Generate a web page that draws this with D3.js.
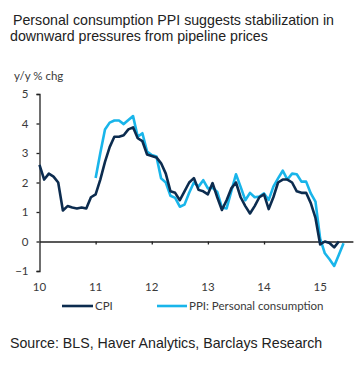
<!DOCTYPE html>
<html><head><meta charset="utf-8">
<script src="https://cdn.jsdelivr.net/npm/d3@7"></script>
<style>html,body{margin:0;padding:0;background:#fff;}svg{display:block;}</style>
</head><body>
<svg id="c" width="361" height="371"></svg>
<script>
// Monthly y/y % change; CPI starts Jan 2010, PPI starts Jan 2011
const cpiStart = "2010-01";
const cpi = [2.6,2.1,2.3,2.2,2.0,1.05,1.2,1.15,1.12,1.15,1.12,1.5,
  1.6,2.1,2.7,3.2,3.55,3.55,3.6,3.8,3.87,3.5,3.4,2.95,
  2.9,2.85,2.65,2.3,1.7,1.65,1.4,1.7,2.0,2.15,1.75,1.7,
  1.6,1.98,1.5,1.07,1.4,1.8,2.0,1.5,1.2,0.95,1.2,1.5,
  1.6,1.1,1.5,2.0,2.1,2.1,2.0,1.7,1.65,1.65,1.3,0.8,
  -0.1,0.0,-0.05,-0.2,0.0];
const ppiStart = "2011-01";
const ppi = [2.15,3.0,3.8,4.03,4.1,4.1,3.98,4.12,4.25,3.55,3.67,3.05,
  2.93,2.88,2.14,2.0,1.55,1.48,1.18,1.25,1.65,2.0,1.86,2.08,
  1.8,1.82,1.68,1.15,1.12,1.7,2.28,1.85,1.4,1.65,1.5,1.52,
  1.63,1.41,1.86,2.14,2.4,2.1,2.3,2.28,2.03,2.03,1.63,1.35,
  0.1,-0.4,-0.6,-0.83,-0.45,-0.06];
const yearLabels = ["10","11","12","13","14","15"];
const yTicks = [-1,0,1,2,3,4,5];
const seriesNames = ["CPI","PPI: Personal consumption"];
const colors = ["#0c2c4f","#19b5ea"];

const svg = d3.select("#c");
const x = d3.scaleLinear().domain([0,67]).range([39.5,352.9]);
const y = d3.scaleLinear().domain([-1,5]).range([271,94]);
const mi = s => { const [yy,mm] = s.split("-").map(Number); return (yy-2010)*12 + (mm-1); };

const axisFont = "Lato, 'Open Sans', sans-serif";
const txt = "#3a3a3a";

// Title
const title = svg.append("text").attr("font-family","Arial, 'Liberation Sans', sans-serif")
  .attr("font-size",14.2).attr("fill","#222");
title.append("tspan").attr("x",13).attr("y",25).text("Personal consumption PPI suggests stabilization in");
title.append("tspan").attr("x",10).attr("y",41).text("downward pressures from pipeline prices");

// y unit label
svg.append("text").attr("x",14).attr("y",80).attr("font-family",axisFont).attr("font-size",11.5)
  .attr("fill",txt).text("y/y % chg");

// Y axis
const ya = svg.append("g").attr("transform",`translate(${x(0)},0)`)
  .call(d3.axisLeft(y).tickValues(yTicks).tickSize(3).tickPadding(8).tickFormat(d3.format("d")));
ya.select(".domain").attr("stroke","#222").attr("stroke-width",1.3);
ya.selectAll(".tick line").attr("stroke","#222").attr("stroke-width",1.3);
ya.selectAll(".tick text").attr("font-family",axisFont).attr("font-size",11.5).attr("fill",txt);

// X axis at zero
const xa = svg.append("g").attr("transform",`translate(0,${y(0)})`)
  .call(d3.axisBottom(x).tickValues(d3.range(12,61,12)).tickSize(3).tickSizeOuter(0).tickFormat(""));
xa.select(".domain").attr("stroke","#222").attr("stroke-width",1.3);
xa.selectAll(".tick line").attr("stroke","#222").attr("stroke-width",1.3);

// X labels at bottom
svg.append("g").selectAll("text").data(yearLabels).join("text")
  .attr("x",(d,i)=>x(i*12)).attr("y",291).attr("text-anchor","middle")
  .attr("font-family",axisFont).attr("font-size",11.5).attr("fill",txt).text(d=>d);

// Lines
const line = d3.line().x(d=>x(d[0])).y(d=>y(d[1]));
const cpiPts = cpi.map((v,i)=>[mi(cpiStart)+i, v]);
const ppiPts = ppi.map((v,i)=>[mi(ppiStart)+i, v]);
svg.append("path").datum(ppiPts).attr("d",line).attr("fill","none")
  .attr("stroke",colors[1]).attr("stroke-width",2.6).attr("stroke-linejoin","round");
svg.append("path").datum(cpiPts).attr("d",line).attr("fill","none")
  .attr("stroke",colors[0]).attr("stroke-width",2.6).attr("stroke-linejoin","round");

// Legend
const leg = [[62,93,95],[157,187,189]];
leg.forEach((l,i)=>{
  svg.append("line").attr("x1",l[0]).attr("x2",l[1]).attr("y1",306).attr("y2",306)
    .attr("stroke",colors[i]).attr("stroke-width",2.6);
  svg.append("text").attr("x",l[2]).attr("y",310).attr("font-family",axisFont).attr("font-size",11.5)
    .attr("fill",txt).text(seriesNames[i]);
});

// Source
svg.append("text").attr("x",10).attr("y",348).attr("font-family","Arial, 'Liberation Sans', sans-serif")
  .attr("font-size",14.2).attr("fill","#222").text("Source: BLS, Haver Analytics, Barclays Research");
</script>
</body></html>
